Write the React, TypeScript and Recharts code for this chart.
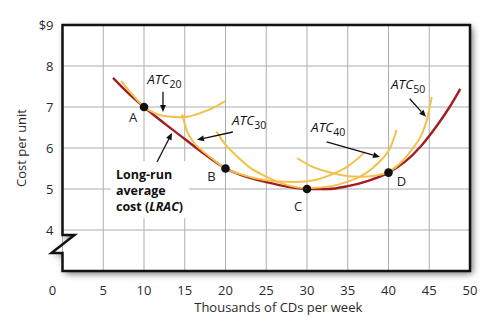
import React from 'react';
import {
  ComposedChart,
  Line,
  XAxis,
  YAxis,
  CartesianGrid,
  ReferenceArea,
  ReferenceLine,
  ReferenceDot,
  Label,
} from 'recharts';

// ---------- data ----------
const xTicks = [0, 5, 10, 15, 20, 25, 30, 35, 40, 45, 50];
const yTicks = [4, 5, 6, 7, 8, 9];

const lrac = [
  { x: 6.2, y: 7.71 }, { x: 8, y: 7.35 }, { x: 10, y: 7.0 }, { x: 12.5, y: 6.6 },
  { x: 15, y: 6.22 }, { x: 17.5, y: 5.84 }, { x: 20, y: 5.5 }, { x: 22.5, y: 5.3 },
  { x: 25, y: 5.17 }, { x: 27.5, y: 5.06 }, { x: 30, y: 5.0 }, { x: 32.5, y: 5.0 },
  { x: 35, y: 5.07 }, { x: 37.5, y: 5.2 }, { x: 40, y: 5.4 }, { x: 42, y: 5.66 },
  { x: 44, y: 6.05 }, { x: 46, y: 6.56 }, { x: 47.5, y: 7.0 }, { x: 48.8, y: 7.44 },
];
const atc20 = [
  { x: 7.2, y: 7.64 }, { x: 8.5, y: 7.32 }, { x: 10, y: 7.0 }, { x: 11, y: 6.88 },
  { x: 12, y: 6.8 }, { x: 13, y: 6.77 }, { x: 14.3, y: 6.75 }, { x: 15.5, y: 6.77 },
  { x: 17, y: 6.86 }, { x: 18.5, y: 6.98 }, { x: 20, y: 7.15 },
];
const atc30 = [
  { x: 14.7, y: 6.82 }, { x: 15.2, y: 6.45 }, { x: 16, y: 6.16 }, { x: 17, y: 5.96 },
  { x: 18.5, y: 5.72 }, { x: 20, y: 5.5 }, { x: 21.5, y: 5.38 }, { x: 23.5, y: 5.27 },
  { x: 26, y: 5.19 }, { x: 28.5, y: 5.17 }, { x: 31, y: 5.22 }, { x: 33, y: 5.35 },
  { x: 35, y: 5.55 }, { x: 37.1, y: 5.9 },
];
const atc40 = [
  { x: 18.9, y: 6.4 }, { x: 20, y: 6.08 }, { x: 21.4, y: 5.8 }, { x: 23, y: 5.52 },
  { x: 25, y: 5.3 }, { x: 27, y: 5.13 }, { x: 30, y: 5.02 }, { x: 33, y: 5.07 },
  { x: 35, y: 5.18 }, { x: 36.5, y: 5.3 }, { x: 38, y: 5.5 }, { x: 39.3, y: 5.75 },
  { x: 40.2, y: 6.0 }, { x: 41, y: 6.44 },
];
const atc50 = [
  { x: 28.8, y: 5.75 }, { x: 30.5, y: 5.56 }, { x: 32.5, y: 5.42 }, { x: 34.5, y: 5.33 },
  { x: 36.5, y: 5.3 }, { x: 38.5, y: 5.33 }, { x: 40, y: 5.42 }, { x: 41.8, y: 5.7 },
  { x: 43, y: 6.0 }, { x: 44, y: 6.3 }, { x: 44.7, y: 6.68 }, { x: 45.3, y: 7.24 },
];

const pointNames = ['A', 'B', 'C', 'D'];
const pointX = [10, 20, 30, 40];
const pointY = [7.0, 5.5, 5.0, 5.4];

// ATC labels: text anchor (data units) and arrow (from -> to)
const atcNames = ['20', '30', '40', '50'];
const atcLabelAt = [
  { x: 10.4, y: 7.56 }, { x: 20.8, y: 6.55 }, { x: 30.5, y: 6.4 }, { x: 40.3, y: 7.45 },
];
const atcArrowFrom = [
  { x: 12.33, y: 7.37 }, { x: 20.9, y: 6.39 }, { x: 32.4, y: 6.15 }, { x: 42.6, y: 7.2 },
];
const atcArrowTo = [
  { x: 12.33, y: 6.88 }, { x: 16.5, y: 6.2 }, { x: 38.96, y: 5.78 }, { x: 44.6, y: 6.76 },
];
const lracLabelLines = ['Long-run', 'average', 'cost ('];
const lracLabelAt = { x: 6.56, y: 5.24 };
const lracArrowFrom = { x: 11.6, y: 5.66 };
const lracArrowTo = { x: 13.44, y: 6.37 };

// ---------- styling ----------
const FONT = '"Open Sans", "Noto Sans", sans-serif';
const RED = '#a31d24';
const YELLOW = '#f2c14a';
const Y_MIN = 3;
const Y_MAX = 9;
const pointLabelOffset: Record<string, [number, number]> = {
  A: [-11, 15], B: [-14, 12], C: [-9, 22], D: [13, 13],
};

const Arrow = (props: any) => {
  const { x1, y1, x2, y2 } = props;
  const dx = x2 - x1;
  const dy = y2 - y1;
  const len = Math.hypot(dx, dy) || 1;
  const ux = dx / len;
  const uy = dy / len;
  const hl = 7;
  const hw = 3;
  const bx = x2 - ux * hl;
  const by = y2 - uy * hl;
  const px = -uy;
  const py = ux;
  return (
    <g>
      <line x1={x1} y1={y1} x2={bx} y2={by} stroke="#111" strokeWidth={1.3} />
      <polygon
        points={`${x2},${y2} ${bx + px * hw},${by + py * hw} ${bx - px * hw},${by - py * hw}`}
        fill="#111"
      />
    </g>
  );
};

const framePath = (x: number, y: number, w: number, h: number) => {
  const unit = h / (Y_MAX - Y_MIN);
  const yt = y + (Y_MAX - 3.88) * unit;
  const yb = y + (Y_MAX - 3.44) * unit;
  return `M${x},${y} L${x + w},${y} L${x + w},${y + h} L${x},${y + h} L${x},${yb} L${x - 11},${yb} L${x + 12},${yt} L${x},${yt} Z`;
};

const Background = (p: any) => (
  <g>
    <defs>
      <filter id="plotShadow" x="-10%" y="-10%" width="120%" height="120%">
        <feDropShadow dx="2.5" dy="2.5" stdDeviation="3.5" floodColor="#000" floodOpacity="0.6" />
      </filter>
    </defs>
    <path d={framePath(p.x, p.y, p.width, p.height)} fill="#fff" filter="url(#plotShadow)" />
  </g>
);

const Frame = (p: any) => (
  <path
    d={framePath(p.x, p.y, p.width, p.height)}
    fill="none"
    stroke="#111"
    strokeWidth={2.5}
    strokeLinejoin="miter"
  />
);

const XTick = (p: any) => {
  const v = p.payload.value;
  return (
    <text x={v === 0 ? p.x - 10 : p.x} y={p.y + 24} textAnchor="middle" fontFamily={FONT} fontSize={13} fill="#2a2a2a">
      {v}
    </text>
  );
};

const YTick = (p: any) => {
  const v = p.payload.value;
  return (
    <text x={p.x - 9} y={p.y + 4.5} textAnchor="end" fontFamily={FONT} fontSize={13} fill="#2a2a2a">
      {v === 9 ? '$9' : v}
    </text>
  );
};

const AtcText = (name: string) => (p: any) => (
  <text x={p.cx} y={p.cy} fontFamily={FONT} fontStyle="italic" fontSize={13.5} fill="#111">
    ATC
    <tspan dy={4} fontSize={10.5} fontStyle="normal">{name}</tspan>
  </text>
);

const LracText = (p: any) => (
  <g>
    <rect x={p.cx - 5} y={p.cy - 18} width={78} height={57} fill="#fff" />
    <text x={p.cx} y={p.cy} fontFamily={FONT} fontWeight="bold" fontSize={12.5} fill="#111">
      {lracLabelLines[0]}
    </text>
    <text x={p.cx} y={p.cy + 16} fontFamily={FONT} fontWeight="bold" fontSize={12.5} fill="#111">
      {lracLabelLines[1]}
    </text>
    <text x={p.cx} y={p.cy + 32} fontFamily={FONT} fontWeight="bold" fontSize={12.5} fill="#111">
      {lracLabelLines[2]}<tspan fontStyle="italic">LRAC</tspan>)
    </text>
  </g>
);

const PointShape = (name: string) => (p: any) => {
  const [ox, oy] = pointLabelOffset[name];
  return (
    <g>
      <circle cx={p.cx} cy={p.cy} r={4.3} fill="#111" />
      <text x={p.cx + ox} y={p.cy + oy} textAnchor="middle" fontFamily={FONT} fontSize={13} fill="#222">
        {name}
      </text>
    </g>
  );
};

export default function App() {
  return (
    <div style={{ position: 'absolute', left: 0, top: 0, background: '#fff' }}>
      <ComposedChart width={500} height={330} margin={{ top: 25, right: 30, bottom: 0, left: 0 }}>
        <ReferenceArea x1={0} x2={50} y1={Y_MIN} y2={Y_MAX} shape={Background} zIndex={-200} ifOverflow="visible" />
        <CartesianGrid stroke="#adadad" strokeWidth={1} zIndex={-100} />
        <XAxis
          type="number"
          dataKey="x"
          domain={[0, 50]}
          ticks={xTicks}
          axisLine={false}
          tickLine={false}
          tickSize={0}
          tickMargin={0}
          height={59}
          tick={XTick}
          interval={0}
        >
          <Label
            content={(lp: any) => {
              const vb = lp.viewBox || {};
              return (
                <text x={vb.x + vb.width / 2 + 12} y={vb.y + 41} textAnchor="middle" fontFamily={FONT} fontSize={13} fill="#2a2a2a">
                  Thousands of CDs per week
                </text>
              );
            }}
          />
        </XAxis>
        <YAxis
          type="number"
          dataKey="y"
          domain={[Y_MIN, Y_MAX]}
          ticks={yTicks}
          axisLine={false}
          tickLine={false}
          tickSize={0}
          tickMargin={0}
          width={62.5}
          tick={YTick}
          interval={0}
        >
          <Label
            content={(lp: any) => {
              const vb = lp.viewBox || {};
              const cx = vb.x + 21;
              const cy = vb.y + vb.height / 2;
              return (
                <text x={cx} y={cy} transform={`rotate(-90 ${cx} ${cy})`} textAnchor="middle" dominantBaseline="central" fontFamily={FONT} fontSize={13} fill="#2a2a2a">
                  Cost per unit
                </text>
              );
            }}
          />
        </YAxis>

        <Line data={lrac} dataKey="y" type="monotone" stroke={RED} strokeWidth={2.4} dot={false} activeDot={false} isAnimationActive={false} />
        <Line data={atc20} dataKey="y" type="monotone" stroke={YELLOW} strokeWidth={2} dot={false} activeDot={false} isAnimationActive={false} />
        <Line data={atc30} dataKey="y" type="monotone" stroke={YELLOW} strokeWidth={2} dot={false} activeDot={false} isAnimationActive={false} />
        <Line data={atc40} dataKey="y" type="monotone" stroke={YELLOW} strokeWidth={2} dot={false} activeDot={false} isAnimationActive={false} />
        <Line data={atc50} dataKey="y" type="monotone" stroke={YELLOW} strokeWidth={2} dot={false} activeDot={false} isAnimationActive={false} />

        <ReferenceArea x1={0} x2={50} y1={Y_MIN} y2={Y_MAX} shape={Frame} zIndex={450} ifOverflow="visible" />

        <ReferenceDot x={lracLabelAt.x} y={lracLabelAt.y} r={0} shape={LracText} zIndex={460} />
        <ReferenceLine segment={[lracArrowFrom, lracArrowTo]} shape={Arrow} zIndex={500} />

        {atcNames.map((n, i) => (
          <ReferenceDot key={'t' + n} x={atcLabelAt[i].x} y={atcLabelAt[i].y} r={0} shape={AtcText(n)} zIndex={500} />
        ))}
        {atcNames.map((n, i) => (
          <ReferenceLine key={'a' + n} segment={[atcArrowFrom[i], atcArrowTo[i]]} shape={Arrow} zIndex={500} />
        ))}
        {pointNames.map((n, i) => (
          <ReferenceDot key={'p' + n} x={pointX[i]} y={pointY[i]} r={4} shape={PointShape(n)} zIndex={600} />
        ))}
      </ComposedChart>
    </div>
  );
}
